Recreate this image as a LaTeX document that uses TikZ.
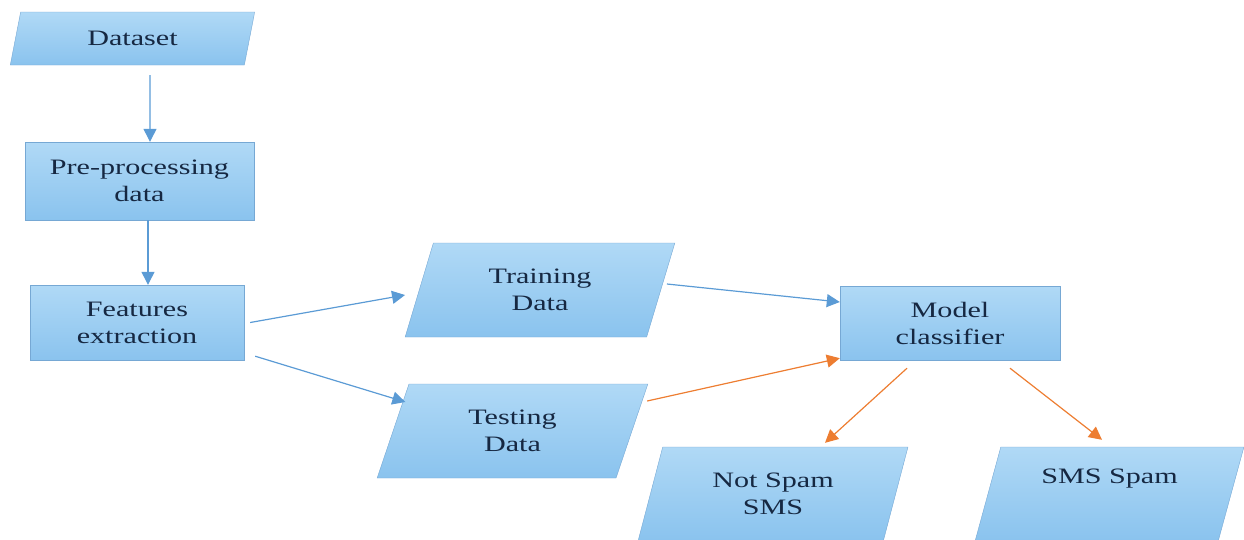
\documentclass[tikz,border=0pt]{standalone}
\usepackage{fontspec}
\setmainfont{Liberation Serif}[FakeStretch=1.37]
\usetikzlibrary{positioning, arrows.meta, shapes}

\definecolor{boxtop}{RGB}{176,217,246}
\definecolor{boxbot}{RGB}{138,195,238}
\definecolor{boxline}{RGB}{118,168,212}
\definecolor{ink}{RGB}{22,40,66}
\definecolor{arrblue}{RGB}{91,155,213}
\definecolor{arrorange}{RGB}{237,125,49}

\begin{document}
\begin{tikzpicture}[x=1pt,y=-1pt]
		\tikzstyle{box}=[draw=boxline, thin, top color=boxtop, bottom color=boxbot, text=ink, align=center, font=\fontsize{22}{27}\selectfont, inner sep=0pt]
		\tikzstyle{proc}=[box, rectangle]
		\tikzstyle{io}=[box, trapezium, trapezium left angle=72, trapezium right angle=108, trapezium stretches=true, minimum width=270, minimum height=94]
		\tikzstyle{blueline}=[arrblue, line width=1.2pt, -{Triangle[length=13pt,width=13pt]}]
		\tikzstyle{orangeline}=[blueline, arrorange]
		\useasboundingbox (0,0) rectangle (1244,539);
		% left column
		\node[io, minimum width=245, minimum height=53, trapezium left angle=74, trapezium right angle=106] (dataset) at (132.5,38.5) {Dataset};
		\node[proc, minimum width=229, minimum height=78] (prep) at (139.5,181) {Pre-processing\\data};
		\node[proc, minimum width=214, minimum height=75] (feat) at (137,322.5) {Features\\extraction};
		% split
		\node[io] (train) at (540,290) {Training\\Data};
		\node[io, minimum width=271] (test) at (512.5,431) {Testing\\Data};
		\node[proc, minimum width=220, minimum height=74] (model) at (950,323) {Model\\classifier};
		% results
		\node[io] (notspam) at (773,494) {Not Spam\\SMS};
		\node[io, minimum width=269] (spam) at (1109.5,494) {SMS Spam\\\strut};

		\draw[blueline] ([xshift=17.5pt,yshift=-10pt]dataset.south) -- ([xshift=10.5pt]prep.north);
		\draw[blueline] ([xshift=8.5pt]prep.south) -- ([xshift=11pt]feat.north);
		\draw[blueline] ([xshift=6pt]feat.east) -- ([xshift=-14pt,yshift=-5pt]train.left side);
		\draw[blueline] ([xshift=11pt,yshift=4pt]feat.south east) -- ([xshift=12.5pt,yshift=29pt]test.left side);
		\draw[blueline] ([xshift=6pt,yshift=6pt]train.right side) -- ([yshift=21pt]model.west);
		\draw[orangeline] ([xshift=15pt,yshift=30pt]test.right side) -- ([yshift=2pt]model.south west);
		\draw[orangeline] ([xshift=-43pt,yshift=-8pt]model.south) -- ([xshift=52pt,yshift=4pt]notspam.north);
		\draw[orangeline] ([xshift=60pt,yshift=-8pt]model.south) -- ([xshift=-7.5pt,yshift=7pt]spam.north);
\end{tikzpicture}
\end{document}
